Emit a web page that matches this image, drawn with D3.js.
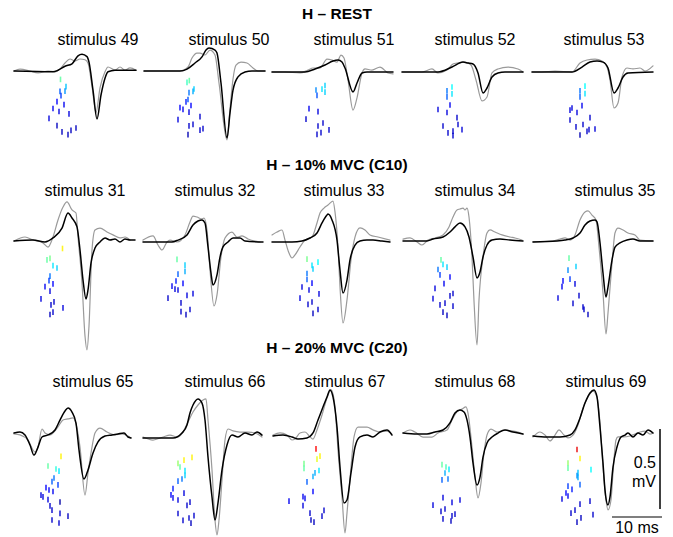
<!DOCTYPE html>
<html>
<head>
<meta charset="utf-8">
<script src="https://cdn.jsdelivr.net/npm/d3@7"></script>
<style>
  body { margin: 0; background: #fff; }
  text { font-family: "Liberation Sans", Arial, Helvetica, sans-serif; fill: #000; }
  .title { font-weight: bold; font-size: 15.5px; }
  .stim { font-size: 16px; }
  .bar-label { font-size: 16px; }
  .trace { fill: none; stroke-linejoin: round; stroke-linecap: round; }
  .trace.gray { stroke: #9a9a9a; stroke-width: 1.2; }
  .trace.black { stroke: #000; stroke-width: 1.5; }
</style>
</head>
<body>
<div id="chart"></div>
<script>
// rows of the figure
const rowTitles = ['H \u2013 REST', 'H \u2013 10% MVC (C10)', 'H \u2013 20% MVC (C20)'];
const rowStimuli = [[49, 50, 51, 52, 53], [31, 32, 33, 34, 35], [65, 66, 67, 68, 69]];

// waveforms: [time ms, amplitude uV]; rasters: [time ms, unit rank, colour value 0..1]
const black49 = [[0.2,0],[8,-5],[9,5],[10.4,30],[11.8,45],[13,95],[13.8,105],[14.8,90],[15.2,55],[16,-120],[16.8,-300],[17.6,-150],[18.4,-45],[19,-5],[20.4,5],[24.6,5]];
const gray49 = [[0.2,0],[1.4,12],[3.4,0],[5,-12],[7,0],[8.4,-5],[9.4,12],[10.4,50],[11.4,75],[12.4,62],[13.4,75],[14.4,70],[15,50],[15.8,-95],[16.6,-260],[17.4,-105],[18.4,-5],[19,25],[20.4,5],[21.4,25],[22.4,5],[23.4,20],[24.6,5]];
const raster49 = [[9.5,2.8,0.5],[10.6,5.2,0.37],[10.4,6.7,0.33],[9.4,6.8,0.28],[9.6,8.2,0.25],[8.8,10.2,0.2],[8,12.5,0.18],[10.2,11.2,0.18],[9.2,13.5,0.15],[11.2,14.3,0.15],[7.2,15.8,0.15],[8.8,18.2,0.1],[9.8,20.3,0.1],[11,21.2,0.1],[11.6,19.8,0.1],[12.6,19,0.1]];

const black50 = [[0.2,0],[7.4,0],[8.8,12],[10.4,50],[11.8,88],[12.6,131],[13.2,144],[14.4,131],[14.8,112],[15.6,-75],[16.8,-419],[17.4,-262],[18,-119],[19,-37],[20.4,-6],[21.8,0],[24.4,0]];
const gray50 = [[0.2,0],[1.4,0],[7.4,0],[9,25],[9.8,81],[10.8,112],[11.4,112],[12.4,100],[13.4,131],[14.4,100],[15.2,-75],[16.8,-431],[17.4,-237],[18,-50],[18.6,37],[19.6,56],[20.8,50],[22,19],[23,0],[24.4,0]];
const raster50 = [[9.26,3.2,0.5],[8.8,3.8,0.47],[10.2,6,0.38],[10,6.8,0.35],[9.2,7.2,0.3],[9,9.5,0.27],[8.6,10.3,0.22],[9.6,11.5,0.2],[7.4,12.2,0.2],[8,12.8,0.18],[9.2,13.7,0.15],[7,16.2,0.15],[11.4,15.2,0.12],[10,17.8,0.12],[9.2,18.3,0.12],[12,19.2,0.12],[11.4,19.7,0.12],[9,21.2,0.08]];

const black51 = [[0,0],[6.6,0],[8.6,19],[10.6,44],[12.2,69],[13.2,75],[14,62],[14.6,25],[16.2,-125],[17,-69],[18,-6],[19,0],[24.2,0]];
const gray51 = [[0,0],[2.6,0],[5.6,-6],[7.2,12],[8.2,25],[9.6,25],[11,81],[12,75],[13,62],[13.8,106],[14.4,88],[15.2,-50],[16.2,-238],[17,-162],[18,-6],[18.6,19],[20,12],[21.6,31],[23.2,-6],[24.2,-12]];
const raster51 = [[8.8,6,0.32],[10,5.7,0.4],[10.6,4.5,0.38],[10.6,6.7,0.38],[9,7.8,0.27],[7.4,12.2,0.18],[9.2,13.2,0.15],[6.8,15.7,0.12],[10.2,17,0.12],[9.2,18,0.12],[11.4,19.3,0.12],[9,20.8,0.12],[9.8,20.2,0.12]];

const black52 = [[0,0],[7.2,0],[10,31],[12.2,62],[13.2,56],[14.2,50],[15.2,-6],[16.2,-131],[17,-100],[18,-31],[19.2,-6],[20.6,0],[24.2,0]];
const gray52 = [[0,0],[4,0],[6,19],[7.2,-6],[9,12],[10.2,50],[11,56],[12.6,62],[13.8,44],[14.8,-50],[16,-181],[17,-156],[18,-6],[19.2,19],[21.2,31],[23.2,19],[24.2,0]];
const raster52 = [[10,5,0.42],[10,7.3,0.4],[9,6.3,0.3],[9,8.3,0.28],[7.2,12.5,0.15],[9,13.5,0.15],[9.6,11,0.18],[11,15.2,0.12],[11.2,17.5,0.12],[8.2,18,0.12],[10.2,19.7,0.12],[12,19.2,0.14],[9.2,20.3,0.12],[10.2,21.2,0.12]];

const black53 = [[0,0],[8,0],[10,31],[11.6,62],[13,69],[14.2,62],[15.2,25],[16.4,-131],[17.2,-100],[18.2,-31],[19.2,-6],[24.2,0]];
const gray53 = [[0,0],[2,0],[4.6,6],[8,0],[9.6,56],[11,75],[12.6,81],[14,69],[15,31],[15.6,-50],[16.4,-225],[17.2,-194],[18,-31],[19,25],[20.2,19],[21.6,25],[22.6,6],[24.2,38]];
const raster53 = [[10.6,4.7,0.42],[10.6,7.2,0.4],[9.6,6.3,0.3],[9.6,8.3,0.28],[10,11.2,0.18],[7.6,12.7,0.15],[8,12,0.15],[9,13.5,0.15],[7.6,16,0.12],[11.6,15.2,0.12],[10.2,17.5,0.12],[8.8,18.3,0.12],[11.4,19.2,0.12],[12.6,19,0.14],[9.6,21,0.08],[11,19.8,0.12]];

const black31 = [[0.2,0],[4,6],[6.4,-6],[8,19],[9.8,81],[11,175],[11.8,144],[12.8,88],[13.4,-56],[14,-244],[14.6,-362],[15,-306],[15.6,-138],[16.4,-44],[17.4,-6],[18.4,19],[19.4,6],[20.4,12],[21.4,-6],[22.4,12],[23.4,6],[24.4,6]];
const gray31 = [[0.2,0],[2.4,25],[4,6],[6,-12],[7,-38],[8,25],[9,131],[10,212],[10.8,244],[11.8,194],[12.6,175],[13,25],[13.8,-262],[14.4,-594],[14.8,-681],[15.2,-531],[15.8,-56],[16.4,69],[17.4,81],[18.8,56],[20,38],[21.4,19],[22.4,25],[23.4,6]];
const raster31 = [[9.9,2.5,0.65],[7.4,5.8,0.52],[6.8,6.3,0.5],[8,8.2,0.4],[8.8,9,0.38],[7.4,11.7,0.3],[7.2,13.2,0.25],[8,14.3,0.2],[6.4,15.2,0.18],[7.4,16.7,0.15],[5.6,19.3,0.15],[7.6,21.3,0.12],[8.2,20.3,0.12],[10,22.3,0.15],[8,23.7,0.12],[7.4,24.5,0.1]];

const black32 = [[0,0],[5.8,0],[7,12],[8.8,44],[10,106],[11,131],[11.8,138],[12.4,119],[13,-31],[13.6,-194],[14,-269],[14.8,-206],[15.4,-94],[16,-31],[17,0],[18,25],[19.4,25],[20.4,6],[24,0]];
const gray32 = [[0,12],[2,38],[3,-19],[3.8,-50],[4.8,0],[5.4,12],[6.8,0],[8.4,44],[9.4,125],[10,162],[10.8,156],[11.8,144],[12.2,150],[12.8,75],[13.4,-175],[14.2,-400],[14.8,-331],[15.6,-94],[16.4,25],[17.8,62],[18.8,31],[19.8,38],[21,19],[23.4,0]];
const raster32 = [[6.8,5.8,0.5],[8.4,7.7,0.38],[8.4,9.8,0.35],[7,10.7,0.28],[6.6,13,0.22],[8,13.8,0.2],[5.8,14.7,0.18],[6.4,15.7,0.15],[7,16,0.15],[5,18.7,0.12],[8.8,17.8,0.15],[10,17.2,0.15],[7.6,20.3,0.12],[9.4,22.5,0.12],[7.6,23.2,0.12],[8.6,24.2,0.1]];

const black33 = [[0,0],[4,0],[6,6],[7.6,25],[9,56],[10,119],[11,169],[11.2,175],[12,138],[13,12],[13.6,-175],[14.2,-319],[15,-238],[15.6,-112],[16.6,-19],[17.6,6],[19,12],[20.2,12],[22,6],[23.6,0]];
const gray33 = [[0,44],[1,62],[2,75],[2.6,12],[3.4,-69],[4,-100],[4.6,-81],[5.6,-31],[6.6,12],[8,31],[9,119],[9.6,181],[10.4,212],[11.2,231],[12.2,256],[12.6,188],[13.2,-31],[13.6,-281],[14.2,-506],[15,-362],[15.8,-112],[16.6,31],[17.6,88],[18.6,75],[19.6,44],[21.2,31],[23.6,12]];
const raster33 = [[7,5.7,0.52],[8,7.8,0.4],[8.2,9,0.38],[9.2,6.7,0.42],[7,10.5,0.3],[7,12.5,0.28],[8,13.7,0.2],[6,15,0.15],[7.4,16,0.15],[9.4,17.3,0.15],[5.6,18.7,0.15],[7.2,20.8,0.12],[8,20,0.12],[8.2,23.8,0.1],[9.2,22.5,0.12]];

const black34 = [[0.2,0],[5,0],[6.2,12],[8.2,25],[9.6,56],[10.6,88],[11.6,112],[12.6,88],[13.4,25],[14.2,-100],[15,-231],[15.6,-194],[16.2,-100],[17,-25],[18,6],[19.6,12],[21.6,6],[24.2,0]];
const gray34 = [[0.2,12],[1.6,19],[3,-6],[4,-25],[5.2,6],[6.6,19],[8.2,38],[9.4,88],[10.2,150],[11,194],[11.6,200],[12.2,206],[12.6,194],[13,206],[13.4,150],[14,-100],[14.4,-375],[15,-650],[15.4,-369],[16.2,-100],[17,50],[17.6,69],[18.6,56],[20,38],[21.6,25],[22.6,19],[24,6]];
const raster34 = [[7.8,6.3,0.5],[9,8.7,0.38],[8.2,7.8,0.4],[7.2,9.5,0.3],[7.6,11.3,0.25],[9.6,12,0.2],[8.4,14.2,0.18],[6.6,15.8,0.15],[10.2,17.5,0.12],[9.6,18.3,0.12],[6.2,19.2,0.15],[7.6,21.3,0.12],[10.2,21.7,0.12],[8.6,20.7,0.12],[8.2,23.7,0.1],[9,24.8,0.1]];

const black35 = [[0.2,-6],[5,0],[6.6,6],[8.2,19],[9.6,50],[10.6,100],[11.6,125],[12.6,131],[13,119],[13.6,-12],[14.2,-200],[14.8,-350],[15.2,-288],[16,-119],[16.6,-38],[17.6,-12],[19,6],[20.2,12],[21.6,0],[24.2,0]];
const gray35 = [[0.2,-6],[4.2,0],[5.6,12],[6.6,19],[7.6,6],[8.6,38],[9.6,131],[10.6,181],[11.2,188],[12,162],[12.8,131],[13.4,-38],[14.2,-325],[14.8,-581],[15.2,-450],[16,-138],[16.6,50],[17.2,81],[18.2,69],[19.2,50],[20.6,38],[21.6,6],[24.2,0]];
const raster35 = [[7.4,5.7,0.5],[8.8,8.5,0.38],[7.2,9.7,0.32],[7.6,12.7,0.25],[6.2,13.3,0.2],[6,15.2,0.18],[8.6,14.3,0.15],[9.4,18.2,0.12],[5.2,19,0.15],[8.2,20.8,0.12],[10.2,22,0.12],[10.4,22.8,0.12],[11.2,24.5,0.1]];

const black65 = [[0.2,0],[1.4,6],[2.4,-12],[3.4,-75],[4.2,-138],[5,-88],[5.8,-25],[7,-12],[8.4,19],[9.4,81],[10.4,138],[11,156],[11.8,131],[12.6,62],[13.2,-106],[14.2,-288],[15,-231],[16,-125],[17,-56],[18.4,-19],[19.8,-12],[21,-6],[22.2,0],[23,-25],[23.6,-31]];
const gray65 = [[0.2,-6],[1.4,-12],[3,-44],[4.4,-119],[5,-88],[5.8,25],[6.4,0],[7.4,-12],[9,38],[10,81],[11,88],[12,94],[12.8,31],[13.4,-88],[14.4,-388],[15,-250],[15.8,-88],[16.4,0],[17.4,31],[18.8,6],[20.4,-12],[21.8,-6],[23,-19],[23.6,-31]];
const raster65 = [[9.6,7.8,0.65],[7,11,0.5],[8.6,12,0.45],[9.2,12.7,0.4],[8.2,15,0.3],[7.8,16.2,0.28],[9,17.3,0.25],[6.6,18.2,0.2],[7.2,19,0.2],[8,19.5,0.18],[5.6,20.7,0.15],[6,21.3,0.15],[7,22.2,0.15],[9.4,23,0.06],[7.4,24.3,0.12],[7.8,25.7,0.12],[9.4,26.8,0.12],[11,27.7,0.1],[7.8,29,0.12],[9.2,30,0.12]];

const black66 = [[0,-6],[3.4,-6],[6,-6],[7.8,25],[8.8,75],[9.4,150],[10,200],[11,238],[11.8,212],[12.4,106],[13,-125],[13.8,-375],[14.4,-519],[15,-412],[15.8,-206],[16.8,-50],[17.8,12],[19,0],[20.4,25],[21.8,12],[22.8,31],[23.8,12]];
const gray66 = [[0,0],[2,-19],[4,0],[5.4,12],[6.8,0],[8,31],[9,94],[10,156],[11,200],[12,231],[12.6,238],[13,106],[13.8,-206],[14.4,-519],[14.8,-612],[15.2,-519],[15.8,-269],[16.4,-19],[17,50],[18,38],[19.4,31],[21,31],[22.4,25],[23.8,0]];
const raster66 = [[8.2,7.7,0.65],[9.8,6.8,0.65],[7,8.8,0.55],[7.4,10,0.5],[8.4,11.2,0.4],[8.4,12.8,0.38],[7.8,14,0.3],[7,14.7,0.28],[6,17.2,0.22],[5.6,19.3,0.2],[6,20.3,0.18],[8.2,18.7,0.15],[7,21,0.15],[9.4,21.7,0.12],[8.8,22.8,0.12],[7,25.5,0.12],[9.2,27,0.12],[10.2,26.2,0.12],[8,27.8,0.12],[9.6,28.7,0.1]];

const black67 = [[0.2,0],[2.2,6],[4,-6],[5.2,-19],[7,-12],[8.2,19],[9.2,100],[10.2,181],[11,244],[11.6,288],[12.2,244],[13,56],[13.6,-194],[14.4,-419],[15,-400],[15.8,-231],[16.6,-69],[17.6,-6],[19,6],[20.2,-6],[21.6,25],[23,38],[24,6]];
const gray67 = [[0.2,6],[1.6,19],[3,6],[4,-25],[4.6,-19],[5.6,19],[6.6,25],[7.6,-6],[8.2,-19],[9,38],[10,131],[11,238],[11.8,288],[12,281],[12.6,181],[13.2,-88],[14,-381],[14.6,-606],[15,-481],[15.8,-194],[16.4,-6],[17.2,56],[19,56],[20.2,38],[21.6,25],[23,31],[24,12]];
const raster67 = [[8.8,4.3,0.88],[9.6,6.7,0.65],[9,7.7,0.62],[6.4,9.2,0.52],[6.4,10.8,0.5],[9.4,11.5,0.4],[8.2,13.5,0.35],[8.6,12.3,0.35],[7,15.3,0.28],[8.2,18.5,0.2],[6.2,20.2,0.18],[6.6,20.8,0.18],[3.4,21.7,0.18],[6.2,23.2,0.15],[7.6,25.7,0.12],[10.4,24.8,0.12],[10,26.7,0.12],[7.8,28,0.1],[8.4,28.7,0.1]];

const black68 = [[0.2,6],[3,0],[5,0],[6.6,12],[8.2,25],[9.6,69],[10.6,131],[11.6,150],[12.4,138],[13,88],[13.6,-19],[14.2,-181],[15,-319],[15.6,-269],[16.2,-144],[17,-56],[18,-19],[19.2,6],[20.6,25],[22.2,12],[24.2,0]];
const gray68 = [[0.2,6],[1.6,25],[2.6,12],[4.2,-19],[6,-19],[7.2,6],[9,25],[10,88],[11,138],[12,156],[12.8,169],[13.2,131],[14,-81],[14.6,-269],[15.2,-400],[15.8,-306],[16.4,-119],[17,-6],[17.8,31],[19,12],[20.6,25],[22,19],[23.2,12],[24.2,0]];
const raster68 = [[8,10.2,0.5],[8.8,11,0.48],[9.4,11.8,0.4],[8.6,13,0.35],[9.2,15,0.3],[8,15.3,0.28],[8.2,21.2,0.15],[11.6,22,0.15],[10,22.8,0.15],[6.2,23.7,0.15],[8.6,25,0.12],[7.8,25.8,0.12],[10.6,26.7,0.12],[10,27.3,0.12],[8.2,28.3,0.12],[9.8,29,0.1]];

const black69 = [[0.2,0],[3,-6],[5.6,-6],[7.6,6],[8.6,38],[9.6,112],[10.6,206],[11.6,269],[12.4,288],[13,244],[13.6,56],[14.2,-169],[14.6,-338],[15.2,-431],[15.6,-381],[16.2,-194],[17,-69],[17.8,-6],[18.6,6],[19.2,19],[20.2,-6],[21.2,19],[22.2,6],[23.2,38],[24.2,19]];
const gray69 = [[0.2,-6],[1.6,25],[2.6,6],[3.6,-31],[4.6,6],[5.4,38],[6.4,6],[7.2,-12],[8.2,6],[9.2,69],[10.2,175],[11.2,244],[12.2,281],[13,244],[13.6,81],[14.2,-194],[14.8,-400],[15.2,-462],[15.8,-400],[16.2,-231],[16.8,-25],[17.2,-6],[18.2,-6],[19.6,0],[20.6,12],[21.6,25],[22.6,31],[23.6,12],[24.2,19]];
const raster69 = [[9,4.5,0.9],[9.6,7.5,0.65],[7.2,9,0.55],[7.2,10.7,0.5],[11.8,11.2,0.42],[9.2,12.2,0.37],[9.2,13.8,0.35],[9,13.2,0.33],[9.6,16.2,0.28],[7.2,16.7,0.25],[8,17.8,0.22],[6.8,19,0.2],[7.2,20,0.18],[6,21,0.15],[11.6,21.7,0.12],[9.6,22.7,0.12],[8.6,24.7,0.12],[7.8,25.7,0.12],[12.2,26.2,0.12],[9.8,27.3,0.1],[9,28.7,0.1]];

// scale bar values
const barTime = 10;      // ms
const barVolt = 500;     // uV
const barLabels = ['0.5', 'mV', '10 ms'];

const traces = {
  49: [black49, gray49, raster49], 50: [black50, gray50, raster50], 51: [black51, gray51, raster51],
  52: [black52, gray52, raster52], 53: [black53, gray53, raster53],
  31: [black31, gray31, raster31], 32: [black32, gray32, raster32], 33: [black33, gray33, raster33],
  34: [black34, gray34, raster34], 35: [black35, gray35, raster35],
  65: [black65, gray65, raster65], 66: [black66, gray66, raster66], 67: [black67, gray67, raster67],
  68: [black68, gray68, raster68], 69: [black69, gray69, raster69]
};

// layout
const width = 673, height = 537;
const colLeft = [13, 143, 272, 402, 532];
const baselines = [[71, 71, 72, 72, 72], [241, 242, 242, 241, 241], [433, 437, 436, 434, 436]];
const labelX = [[98, 229, 354, 475, 604], [85, 215, 344, 475, 615], [93, 225, 345, 475, 606]];
const labelY = [45, 196, 387];
const titleY = [19, 170, 353];

const svg = d3.select('#chart').append('svg')
    .attr('width', width)
    .attr('height', height);

const x = d3.scaleLinear().domain([0, 25]).range([0, 125]);
const y = d3.scaleLinear().domain([-1000, 1000]).range([160, -160]);
const rank = d3.scaleLinear().domain([0, 30]).range([0, 90]);
// jet-like colour map, darker at the low end
const jet = d3.scaleLinear()
    .domain([0, 0.2, 0.42, 0.64, 0.88, 1])
    .range(['#000080', '#0000ff', '#00ffff', '#ffff00', '#ff0000', '#800000']);

const line = d3.line()
    .x(d => x(d[0]))
    .y(d => y(d[1]))
    .curve(d3.curveMonotoneX);

rowStimuli.forEach((stimuli, r) => {
    svg.append('text')
        .attr('class', 'title')
        .attr('x', 337)
        .attr('y', titleY[r])
        .attr('text-anchor', 'middle')
        .text(rowTitles[r]);

    stimuli.forEach((stim, c) => {
        const [black, gray, raster] = traces[stim];

        svg.append('text')
            .attr('class', 'stim')
            .attr('x', labelX[r][c])
            .attr('y', labelY[r])
            .attr('text-anchor', 'middle')
            .text('stimulus ' + stim);

        const panel = svg.append('g')
            .attr('transform', `translate(${colLeft[c]}, ${baselines[r][c]})`);

        // firing raster
        panel.append('g')
            .selectAll('line')
            .data(raster)
            .enter().append('line')
            .attr('x1', d => x(d[0]))
            .attr('x2', d => x(d[0]))
            .attr('y1', d => rank(d[1]) - 2.8)
            .attr('y2', d => rank(d[1]) + 2.8)
            .attr('stroke', d => jet(d[2]))
            .attr('stroke-width', 1.6)
            .attr('opacity', 0.85);

        panel.append('path')
            .datum(gray)
            .attr('class', 'trace gray')
            .attr('d', line);

        panel.append('path')
            .datum(black)
            .attr('class', 'trace black')
            .attr('d', line);
    });
});

// scale bars
const bars = svg.append('g').attr('transform', 'translate(612, 509)');
bars.append('line')
    .attr('x1', 48)
    .attr('x2', 48)
    .attr('y1', y(0))
    .attr('y2', y(barVolt))
    .attr('stroke', '#000')
    .attr('stroke-width', 1.5);
bars.append('line')
    .attr('x1', 0)
    .attr('x2', x(barTime))
    .attr('y1', 8)
    .attr('y2', 8)
    .attr('stroke', '#555')
    .attr('stroke-width', 1.5);
bars.append('text').attr('class', 'bar-label')
    .attr('x', 44).attr('y', -41).attr('text-anchor', 'end').text(barLabels[0]);
bars.append('text').attr('class', 'bar-label')
    .attr('x', 44).attr('y', -22).attr('text-anchor', 'end').text(barLabels[1]);
bars.append('text').attr('class', 'bar-label')
    .attr('x', x(barTime) / 2).attr('y', 24).attr('text-anchor', 'middle').text(barLabels[2]);
</script>
</body>
</html>
